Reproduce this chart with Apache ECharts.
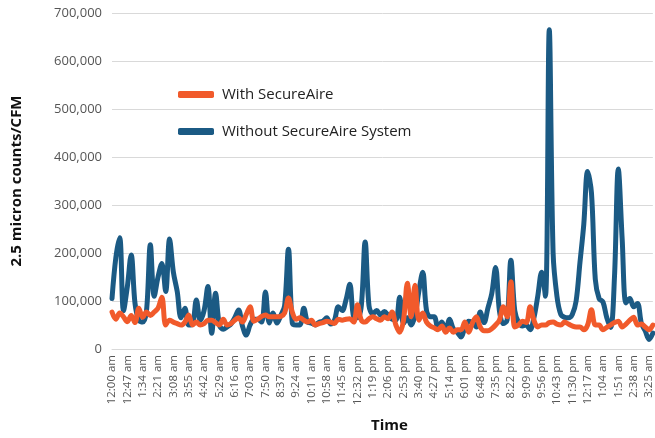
<!DOCTYPE html>
<html>
<head>
<meta charset="utf-8">
<script src="https://cdn.jsdelivr.net/npm/echarts@6/dist/echarts.min.js"></script>
<style>
html,body{margin:0;padding:0;background:#fff;}
#chart{width:655px;height:438px;}
</style>
</head>
<body>
<div id="chart"></div>
<script>
var tickLabels = ['12:00 am','12:47 am','1:34 am','2:21 am','3:08 am','3:55 am','4:42 am','5:29 am','6:16 am','7:03 am','7:50 am','8:37 am','9:24 am','10:11 am','10:58 am','11:45 am','12:32 pm','1:19 pm','2:06 pm','2:53 pm','3:40 pm','4:27 pm','5:14 pm','6:01 pm','6:48 pm','7:35 pm','8:22 pm','9:09 pm','9:56 pm','10:43 pm','11:30 pm','12:17 am','1:04 am','1:51 am','2:38 am','3:25 am'];
var pointsPerLabel = 4;

var withoutSecureAire = [105000,190000,232000,80000,130000,196000,95000,60000,56000,80000,
217000,110000,150000,178000,120000,229000,160000,120000,65000,85000,
50000,52000,102000,60000,80000,130000,33000,116000,50000,41000,
46000,52000,65000,81000,48000,29000,50000,62000,62000,56000,
119000,54000,75000,54000,70000,90000,208000,54000,50000,50000,
85000,56000,54000,50000,56000,58000,65000,52000,60000,88000,
80000,102000,135000,67000,65000,90000,223000,90000,73000,80000,
71000,78000,70000,62000,60000,108000,53000,65000,50000,70000,
120000,160000,80000,67000,67000,44000,56000,38000,62000,42000,
35000,25000,45000,58000,55000,46000,77000,55000,85000,115000,
170000,80000,53000,60000,185000,80000,55000,48000,50000,40000,
65000,110000,160000,110000,665000,200000,110000,72000,66000,65000,
72000,100000,180000,260000,370000,325000,145000,105000,98000,65000,
45000,150000,375000,230000,96000,105000,88000,95000,54000,38000,
20000,33000];

var withSecureAire = [77000,62000,75000,67000,57000,70000,55000,85000,66000,77000,
70000,77000,85000,108000,50000,60000,56000,53000,50000,56000,
71000,50000,56000,50000,53000,60000,60000,55000,50000,62000,
50000,53000,60000,65000,56000,72000,88000,58000,62000,68000,
71000,67000,67000,67000,68000,75000,106000,77000,62000,65000,
60000,56000,60000,50000,53000,55000,58000,56000,53000,62000,
60000,62000,63000,56000,92000,60000,56000,63000,67000,63000,
60000,67000,63000,77000,50000,35000,60000,137000,67000,133000,
60000,75000,56000,48000,44000,40000,48000,35000,44000,35000,
40000,40000,56000,35000,55000,67000,46000,38000,38000,42000,
50000,60000,88000,67000,140000,46000,50000,58000,55000,88000,
60000,46000,50000,50000,55000,56000,52000,50000,56000,52000,
48000,46000,46000,40000,50000,82000,50000,50000,40000,45000,
50000,55000,58000,46000,52000,60000,66000,50000,52000,46000,
40000,50000];

var categories = [];
for (var j = 0; j < withoutSecureAire.length; j++) {
  categories.push(j % pointsPerLabel === 0 ? (tickLabels[j / pointsPerLabel] || '') : '');
}

var FONT = "'Open Sans', 'Noto Sans', sans-serif";
var chart = echarts.init(document.getElementById('chart'));
chart.setOption({
  animation: false,
  backgroundColor: '#ffffff',
  textStyle: { fontFamily: FONT },
  grid: { left: 112, right: 0, top: 13, bottom: 89, containLabel: false },
  legend: {
    data: ['With SecureAire', 'Without SecureAire System'],
    orient: 'vertical',
    left: 173,
    top: 82,
    itemWidth: 36,
    itemHeight: 7,
    itemGap: 22,
    icon: 'roundRect',
    textStyle: { fontFamily: FONT, fontSize: 15, color: '#222222', padding: [0, 0, 0, 3] }
  },
  xAxis: {
    type: 'category',
    data: categories,
    boundaryGap: false,
    name: 'Time',
    nameLocation: 'middle',
    nameGap: 69,
    nameTextStyle: { fontFamily: FONT, fontSize: 15, fontWeight: 'bold', color: '#111111', padding: [0, 0, 0, 14] },
    axisLine: { show: true, lineStyle: { color: '#d9d9d9', width: 1 } },
    axisTick: { show: false },
    axisLabel: { interval: pointsPerLabel - 1, rotate: 90, fontFamily: FONT, fontSize: 11.5, color: '#555555', margin: 6 },
    splitLine: { show: false }
  },
  yAxis: {
    type: 'value',
    min: 0,
    max: 700000,
    interval: 100000,
    name: '2.5 micron counts/CFM',
    nameLocation: 'middle',
    nameRotate: 90,
    nameGap: 88,
    nameTextStyle: { fontFamily: FONT, fontSize: 15, fontWeight: 'bold', color: '#111111' },
    axisLine: { show: false },
    axisTick: { show: false },
    axisLabel: {
      fontFamily: FONT, fontSize: 13, color: '#555555', margin: 10,
      formatter: function (v) { return v.toLocaleString('en-US'); }
    },
    splitLine: { show: true, lineStyle: { color: '#d9d9d9', width: 1 } }
  },
  series: [
    {
      name: 'Without SecureAire System',
      type: 'line',
      data: withoutSecureAire,
      smooth: 0.35,
      showSymbol: false,
      symbol: 'none',
      color: '#1b5a84',
      lineStyle: { width: 5, color: '#1b5a84', cap: 'round', join: 'round' },
      z: 2
    },
    {
      name: 'With SecureAire',
      type: 'line',
      data: withSecureAire,
      smooth: 0.35,
      showSymbol: false,
      symbol: 'none',
      color: '#f15a2b',
      lineStyle: { width: 5, color: '#f15a2b', cap: 'round', join: 'round' },
      z: 3
    }
  ]
});
</script>
</body>
</html>
